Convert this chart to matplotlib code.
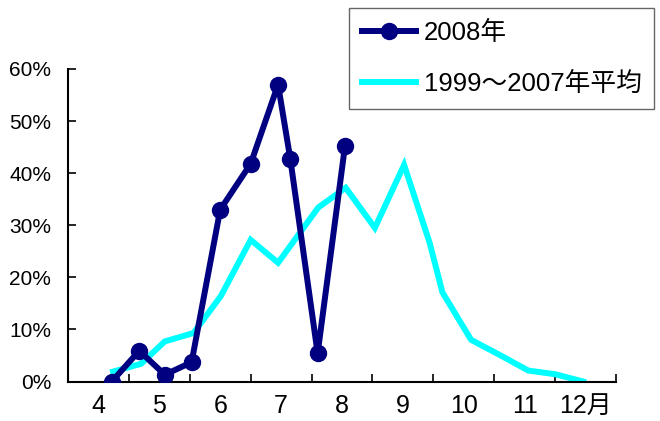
import matplotlib
matplotlib.use("Agg")
import matplotlib.pyplot as plt
from matplotlib.ticker import FixedLocator, FuncFormatter

plt.rcParams['font.family'] = ['Liberation Sans', 'Noto Sans CJK JP', 'DejaVu Sans']

# Month categories (each occupies one unit on the x-axis)
month_labels = ['4', '5', '6', '7', '8', '9', '10', '11', '12月']
y_ticks = [0, 10, 20, 30, 40, 50, 60]

# 2008 series (x in month-units from the start of April, y in %)
x_2008 = [0.72, 1.17, 1.59, 2.03, 2.50, 3.00, 3.45, 3.65, 4.10, 4.55]
y_2008 = [0.0, 5.9, 1.3, 3.7, 33.0, 41.8, 57.0, 42.8, 5.4, 45.3]

# 1999-2007 average series
x_avg = [0.74, 1.20, 1.59, 2.06, 2.51, 3.00, 3.45, 4.11, 4.56, 5.04, 5.52,
         5.94, 6.15, 6.62, 7.09, 7.56, 8.00, 8.46]
y_avg = [1.9, 3.4, 7.7, 9.3, 16.4, 27.2, 22.8, 33.4, 37.2, 29.5, 41.6,
         26.6, 17.1, 8.0, 5.1, 2.1, 1.4, 0.0]

fig = plt.figure(figsize=(6.6, 4.21), dpi=100)
ax = fig.add_axes([68/660, 1 - 381.5/421, (616-68)/660, (381.5-69)/421])

ax.plot(x_avg, y_avg, color='#00FFFF', lw=4.3, solid_joinstyle='miter',
        label='1999～2007年平均', zorder=2)
ax.plot(x_2008, y_2008, color='#000080', lw=4.3, marker='o', ms=11.5,
        label='2008年', zorder=3)

ax.set_xlim(0, len(month_labels))
ax.set_ylim(0, 60)

for s in ['top', 'right']:
    ax.spines[s].set_visible(False)
for s in ['left', 'bottom']:
    ax.spines[s].set_linewidth(1.5)

ax.xaxis.set_major_locator(FixedLocator(list(range(len(month_labels) + 1))))
ax.xaxis.set_minor_locator(FixedLocator([i + 0.5 for i in range(len(month_labels))]))
ax.xaxis.set_major_formatter(FuncFormatter(lambda v, p: ''))
ax.set_xticklabels(month_labels, minor=True)
ax.tick_params(axis='x', which='major', direction='in', length=6, width=1.2)
ax.tick_params(axis='x', which='minor', length=0, pad=9, labelsize=18)

ax.set_yticks(y_ticks)
ax.set_yticklabels([f'{v}%' for v in y_ticks])
ax.tick_params(axis='y', direction='in', length=6, width=1.2, pad=12, labelsize=15)

handles, labels = ax.get_legend_handles_labels()
leg = fig.legend(handles[::-1], labels[::-1], loc='upper left',
                 bbox_to_anchor=(349/660, 1 - 8/421), frameon=True, fancybox=False,
                 fontsize=18.5, handlelength=2.1, handletextpad=0.3,
                 labelspacing=1.05, borderpad=0.5, borderaxespad=0)
leg.get_frame().set_edgecolor('#404040')
leg.get_frame().set_linewidth(1.0)

fig.savefig('out.png', dpi=100)
